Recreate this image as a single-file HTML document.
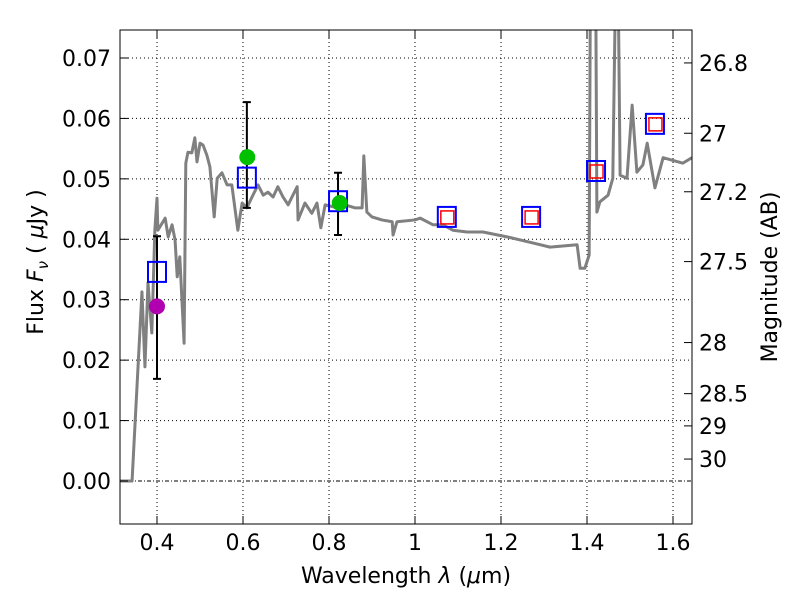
<!DOCTYPE html>
<html><head><meta charset="utf-8"><style>
body{margin:0;background:#fff}
svg text{font-family:"DejaVu Sans","Liberation Sans",sans-serif;font-size:22px;fill:#000}
</style></head><body>
<svg id="chart" width="800" height="600" viewBox="0 0 800 600">
<defs><clipPath id="clip"><rect x="120" y="30" width="572" height="494"/></clipPath></defs>
<rect width="800" height="600" fill="#fff"/>
<g id="grid"></g>
<g id="spec" clip-path="url(#clip)"></g>
<g id="marks" clip-path="url(#clip)"></g>
<rect x="120" y="30" width="572" height="494" fill="none" stroke="#000" stroke-width="1"/>
<g id="axes"></g>
<text x="406" y="583" text-anchor="middle">Wavelength  <tspan font-style="italic">λ</tspan> (<tspan font-style="italic">μ</tspan>m)</text>
<text transform="translate(43,262) rotate(-90)" text-anchor="middle">Flux  <tspan font-style="italic">F</tspan><tspan font-style="italic" font-size="15" dy="5">ν</tspan><tspan dy="-5">  ( <tspan font-style="italic">μ</tspan>Jy )</tspan></text>
<text transform="translate(777,277) rotate(-90)" text-anchor="middle">Magnitude (AB)</text>
</svg>
<script>
const specLam=[0.314,0.342,0.365,0.372,0.379,0.388,0.395,0.400,0.402,0.419,0.426,0.435,0.442,0.447,0.453,0.463,0.467,0.472,0.481,0.488,0.493,0.500,0.507,0.516,0.523,0.533,0.540,0.551,0.563,0.574,0.588,0.598,0.609,0.621,0.635,0.647,0.658,0.670,0.681,0.693,0.705,0.716,0.726,0.728,0.744,0.760,0.772,0.781,0.791,0.814,0.837,0.860,0.877,0.881,0.888,0.900,0.923,0.947,0.949,0.958,1.000,1.012,1.042,1.065,1.088,1.121,1.158,1.214,1.274,1.314,1.377,1.384,1.395,1.405,1.409,1.419,1.423,1.430,1.449,1.460,1.470,1.477,1.493,1.505,1.516,1.530,1.540,1.558,1.577,1.623,1.644];
const specFlux=[0,0,0.0313,0.0189,0.0328,0.0245,0.0415,0.0468,0.0415,0.0435,0.0404,0.0424,0.0399,0.0338,0.0371,0.0228,0.0526,0.0544,0.0543,0.0568,0.0528,0.0559,0.0556,0.0539,0.0520,0.0437,0.0501,0.0510,0.0490,0.0490,0.0415,0.0460,0.0452,0.0470,0.0490,0.0473,0.0478,0.0470,0.0487,0.0470,0.0457,0.0473,0.0487,0.0432,0.0460,0.0443,0.0460,0.0419,0.0457,0.0453,0.0457,0.0452,0.0452,0.0538,0.0445,0.0437,0.0432,0.0429,0.0407,0.0429,0.0432,0.0435,0.0424,0.0424,0.0415,0.0412,0.0412,0.0404,0.0394,0.0387,0.0391,0.0352,0.0352,0.0374,0.10,0.10,0.0445,0.0462,0.0473,0.0501,0.10,0.0506,0.0501,0.0622,0.0511,0.0523,0.0559,0.0485,0.0535,0.0526,0.0535];
const modelLam=[0.400,0.609,0.821,1.074,1.270,1.421,1.558];
const modelFlux=[0.0346,0.0502,0.0463,0.0437,0.0437,0.0513,0.0591];
const redLam=[1.074,1.270,1.421,1.558];
const redFlux=[0.0437,0.0437,0.0513,0.0591];
const greenLam=[0.610,0.825];
const greenFlux=[0.0536,0.0460];
const magLam=[0.400];
const magFlux=[0.0289];
const errLam=[0.400,0.609,0.821];
const errLo=[0.0169,0.0452,0.0407];
const errHi=[0.0405,0.0627,0.0510];
const xTicks=[0.4,0.6,0.8,1.0,1.2,1.4,1.6];
const xTickLabels=["0.4","0.6","0.8","1","1.2","1.4","1.6"];
const yTicks=[0,0.01,0.02,0.03,0.04,0.05,0.06,0.07];
const yTickLabels=["0.00","0.01","0.02","0.03","0.04","0.05","0.06","0.07"];
const magTicks=[26.8,27,27.2,27.5,28,28.5,29,30];
const magTickLabels=["26.8","27","27.2","27.5","28","28.5","29","30"];

const NS="http://www.w3.org/2000/svg";
const X=l=>157+(l-0.4)*430;
const Y=f=>481-f*6043;
function mk(tag,attrs,parent){const e=document.createElementNS(NS,tag);for(const k in attrs)e.setAttribute(k,attrs[k]);parent.appendChild(e);return e;}
const grid=document.getElementById('grid'),axes=document.getElementById('axes'),spec=document.getElementById('spec'),marks=document.getElementById('marks');

xTicks.forEach((t,i)=>{
  const g=mk('line',{x1:X(t),x2:X(t),y1:30,y2:524,stroke:'#000','stroke-width':1,'stroke-dasharray':'1,3'},grid);
  
  
  mk('line',{x1:X(t),x2:X(t),y1:524,y2:516,stroke:'#000'},axes);
  mk('line',{x1:X(t),x2:X(t),y1:30,y2:38,stroke:'#000'},axes);
  const tx=mk('text',{x:X(t),y:550,'text-anchor':'middle'},axes);tx.textContent=xTickLabels[i];
  
  
});
yTicks.forEach((t,i)=>{
  const g=mk('line',{x1:120,x2:692,y1:Y(t),y2:Y(t),stroke:'#000','stroke-width':1,'stroke-dasharray':t===0?'4,2,1,2':'1,3'},grid);
  
  
  mk('line',{x1:120,x2:128,y1:Y(t),y2:Y(t),stroke:'#000'},axes);
  const tx=mk('text',{x:111,y:Y(t)+8,'text-anchor':'end'},axes);tx.textContent=yTickLabels[i];
  
  
});
magTicks.forEach((m,i)=>{
  const y=Y(Math.pow(10,(23.9-m)/2.5));
  mk('line',{x1:684,x2:692,y1:y,y2:y,stroke:'#000'},axes);
  const tx=mk('text',{x:699,y:y+8},axes);tx.textContent=magTickLabels[i];
  
  
});
const p=mk('polyline',{points:specLam.map((l,i)=>X(l)+','+Y(specFlux[i])).join(' '),fill:'none',stroke:'#808080','stroke-width':3,'stroke-linejoin':'round'},spec);


errLam.forEach((l,i)=>{
  const x=X(l);
  const e=mk('path',{d:`M${x},${Y(errLo[i])}V${Y(errHi[i])}M${x-4},${Y(errLo[i])}h8M${x-4},${Y(errHi[i])}h8`,stroke:'#000','stroke-width':2,fill:'none'},marks);
  
  
});
modelLam.forEach((l,i)=>{
  const r=mk('rect',{x:X(l)-9,y:Y(modelFlux[i])-10,width:18,height:20,fill:'none',stroke:'#0000ff','stroke-width':2},marks);
  
  
});
redLam.forEach((l,i)=>{
  const r=mk('rect',{x:X(l)-6,y:Y(redFlux[i])-6,width:13,height:13,fill:'none',stroke:'#ff0000','stroke-width':1.5},marks);
  
  
});
greenLam.forEach((l,i)=>{
  const c=mk('circle',{cx:X(l),cy:Y(greenFlux[i]),r:8,fill:'#00c000'},marks);
  
  
});
magLam.forEach((l,i)=>{
  const c=mk('circle',{cx:X(l),cy:Y(magFlux[i]),r:8,fill:'#b000b0'},marks);
  
  
});
</script>
</body></html>
